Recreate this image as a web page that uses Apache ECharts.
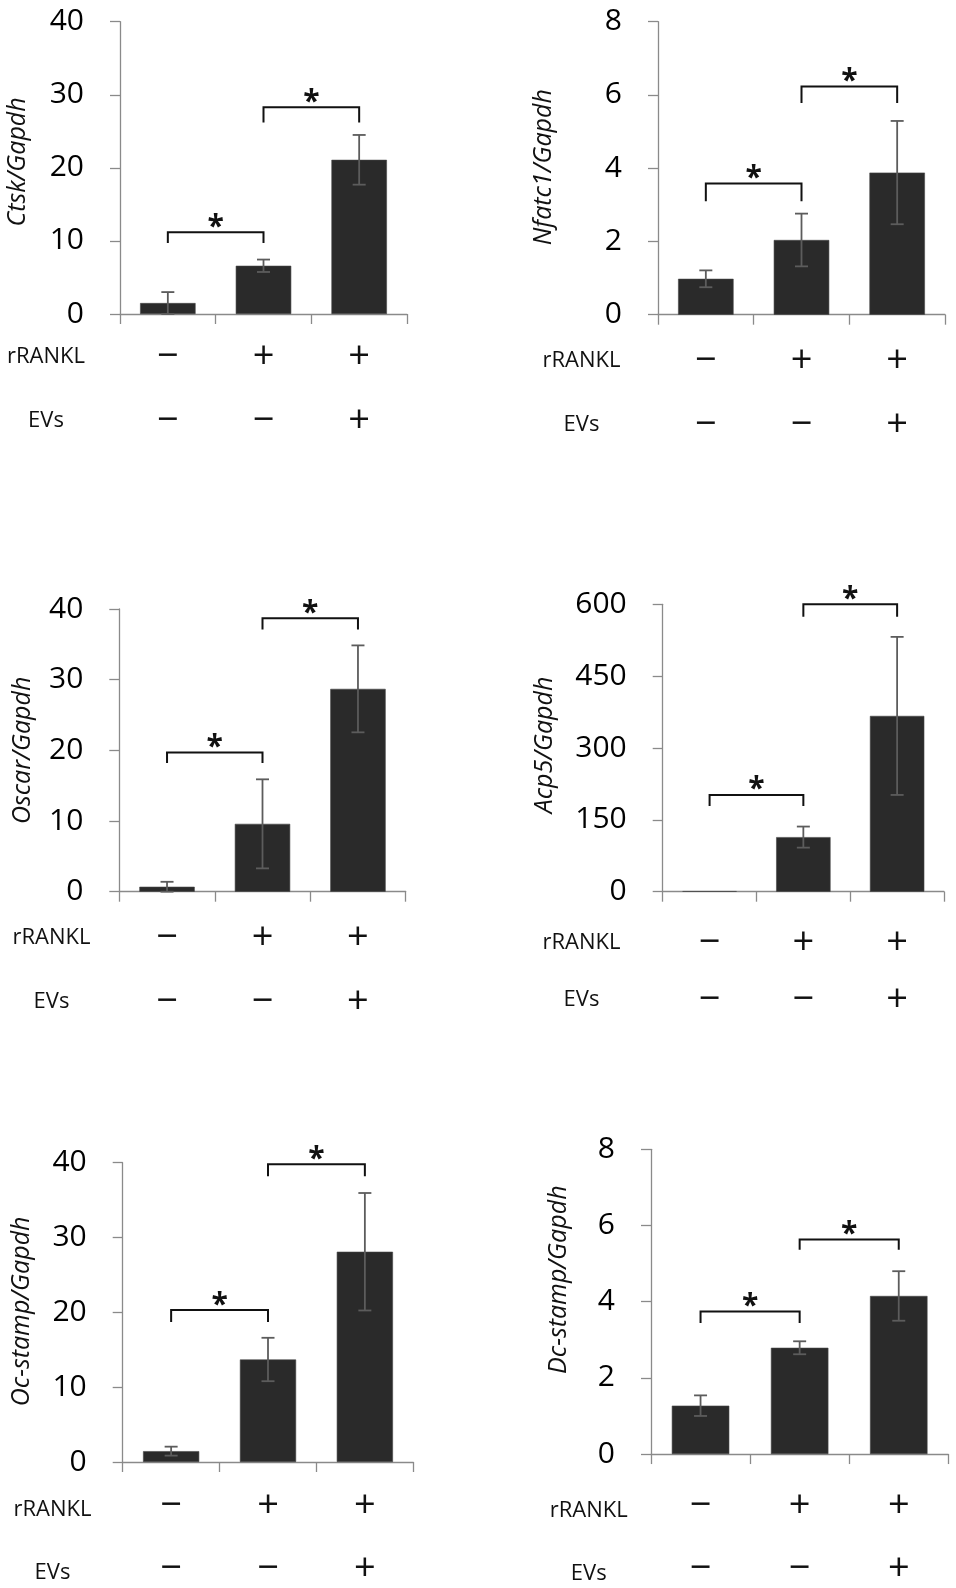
<!DOCTYPE html>
<html>
<head>
<meta charset="utf-8">
<script src="https://cdn.jsdelivr.net/npm/echarts@6/dist/echarts.min.js"></script>
<style>
html,body{margin:0;padding:0;background:#fff;}
#chart{width:956px;height:1588px;}
</style>
</head>
<body>
<div id="chart"></div>
<script>
// ---- data ----
const rowLabels = ['rRANKL', 'EVs'];
const rRANKL = ['−', '+', '+'];
const EVs = ['−', '−', '+'];
const categories = rRANKL.map((r, i) => r + '/' + EVs[i]);

const yTitles = ['Ctsk/Gapdh', 'Nfatc1/Gapdh', 'Oscar/Gapdh', 'Acp5/Gapdh', 'Oc-stamp/Gapdh', 'Dc-stamp/Gapdh'];
const yMax = [40, 8, 40, 600, 40, 8];
const yInterval = [10, 2, 10, 150, 10, 2];

const ctskMean = [1.5, 6.6, 21.1];
const ctskErr = [1.5, 0.85, 3.4];
const nfatc1Mean = [0.98, 2.04, 3.88];
const nfatc1Err = [0.23, 0.72, 1.41];
const oscarMean = [0.7, 9.6, 28.7];
const oscarErr = [0.7, 6.3, 6.15];
const acp5Mean = [1, 114, 367];
const acp5Err = [0, 22, 165];
const ocstampMean = [1.45, 13.7, 28.1];
const ocstampErr = [0.6, 2.9, 7.85];
const dcstampMean = [1.27, 2.79, 4.15];
const dcstampErr = [0.27, 0.17, 0.65];

// significance brackets: [fromIndex, toIndex, barLevel, legEndLevel]
const ctskSig = [[0, 1, 11.2, 9.7], [1, 2, 28.3, 26.2]];
const nfatc1Sig = [[0, 1, 3.58, 3.1], [1, 2, 6.23, 5.78]];
const oscarSig = [[0, 1, 19.7, 18.2], [1, 2, 38.7, 37.1]];
const acp5Sig = [[0, 1, 202, 179], [1, 2, 600, 574]];
const ocstampSig = [[0, 1, 20.3, 18.7], [1, 2, 39.8, 38.2]];
const dcstampSig = [[0, 1, 3.74, 3.44], [1, 2, 5.63, 5.36]];

const means = [ctskMean, nfatc1Mean, oscarMean, acp5Mean, ocstampMean, dcstampMean];
const errs = [ctskErr, nfatc1Err, oscarErr, acp5Err, ocstampErr, dcstampErr];
const sigs = [ctskSig, nfatc1Sig, oscarSig, acp5Sig, ocstampSig, dcstampSig];

// ---- layout (pixels) ----
const grids = [
  {left: 120, top: 21.7, width: 287, height: 292.3},
  {left: 658, top: 21.7, width: 287, height: 293},
  {left: 119.3, top: 609, width: 286.4, height: 282.7},
  {left: 662.7, top: 604.3, width: 281.3, height: 287.4},
  {left: 122.7, top: 1162.7, width: 290.6, height: 303.3},
  {left: 651, top: 1149.3, width: 297.3, height: 309.7}
];
const nameGaps = [90, 102, 84, 105, 88, 80];
const namePads = [[0,0,0,12], [0,0,0,2], [0,0,0,0], [0,0,0,6], [0,0,0,2], [0,0,0,44]];
const labelMargin = [11, 14, 14, 22.5, 12.5, 20];
const labelLineH = [64, 64, 64, 57, 63, 63.3];
const rowLabelPos = [
  [46, 357, 421], [581.5, 361, 425], [51.5, 938, 1001.7],
  [581.5, 942.7, 1000], [52.5, 1510, 1573], [588.7, 1510.7, 1574]
];

const AXIS_COLOR = '#8a8a8a';
const FONT = '"Open Sans", "Noto Sans", sans-serif';

const option = {
  backgroundColor: '#fff',
  animation: false,
  grid: grids.map(g => Object.assign({containLabel: false}, g)),
  xAxis: grids.map((g, i) => ({
    type: 'category',
    gridIndex: i,
    data: categories,
    axisLine: {lineStyle: {color: AXIS_COLOR, width: 1.3}},
    axisTick: {show: true, length: 10, lineStyle: {color: AXIS_COLOR, width: 1.3}},
    axisLabel: {
      margin: labelMargin[i],
      interval: 0,
      formatter: v => v.split('/').map(s => '{s|' + s + '}').join('\n'),
      rich: {s: {fontFamily: FONT, fontSize: 38, lineHeight: labelLineH[i], color: '#111'}}
    }
  })),
  yAxis: grids.map((g, i) => ({
    type: 'value',
    gridIndex: i,
    min: 0,
    max: yMax[i],
    interval: yInterval[i],
    name: yTitles[i],
    nameLocation: 'middle',
    nameRotate: 90,
    nameGap: nameGaps[i],
    nameTextStyle: {fontFamily: FONT, fontStyle: 'italic', fontSize: 25, color: '#111', padding: namePads[i]},
    splitLine: {show: false},
    axisLine: {show: true, lineStyle: {color: AXIS_COLOR, width: 1.3}},
    axisTick: {show: true, length: 10, lineStyle: {color: AXIS_COLOR, width: 1.3}},
    axisLabel: {margin: 36, fontFamily: FONT, fontSize: 30, color: '#000'}
  })),
  graphic: [],
  series: []
};

// row labels
rowLabelPos.forEach(p => {
  rowLabels.forEach((t, k) => {
    option.graphic.push({
      type: 'text', x: p[0], y: p[k + 1],
      style: {text: t, fontFamily: FONT, fontSize: 22, fill: '#111', align: 'center', verticalAlign: 'middle'}
    });
  });
});

means.forEach((m, i) => {
  option.series.push({
    type: 'bar', xAxisIndex: i, yAxisIndex: i,
    data: m, barWidth: '58%',
    itemStyle: {color: '#2a2a2a', borderColor: '#444', borderWidth: 0.6},
    z: 2
  });
  option.series.push({
    type: 'custom', xAxisIndex: i, yAxisIndex: i, z: 5,
    data: m.map((v, k) => [k, v - errs[i][k], v + errs[i][k], errs[i][k]]),
    renderItem: (params, api) => {
      if (api.value(3) <= 0) return null;
      const top = api.coord([api.value(0), api.value(2)]);
      const bot = api.coord([api.value(0), api.value(1)]);
      const w = 6.5;
      const st = {stroke: '#5c5c5c', lineWidth: 1.8};
      return {type: 'group', children: [
        {type: 'line', shape: {x1: top[0], y1: top[1], x2: bot[0], y2: bot[1]}, style: st},
        {type: 'line', shape: {x1: top[0] - w, y1: top[1], x2: top[0] + w, y2: top[1]}, style: st},
        {type: 'line', shape: {x1: bot[0] - w, y1: bot[1], x2: bot[0] + w, y2: bot[1]}, style: st}
      ]};
    }
  });
  option.series.push({
    type: 'custom', xAxisIndex: i, yAxisIndex: i, z: 6, clip: false,
    data: sigs[i],
    renderItem: (params, api) => {
      const a = api.coord([api.value(0), api.value(3)]);
      const b = api.coord([api.value(0), api.value(2)]);
      const c = api.coord([api.value(1), api.value(2)]);
      const d = api.coord([api.value(1), api.value(3)]);
      return {type: 'group', children: [
        {type: 'polyline', shape: {points: [a, b, c, d]}, style: {stroke: '#111', lineWidth: 2, fill: null}},
        {type: 'text', x: (b[0] + c[0]) / 2, y: b[1] + 10,
          style: {text: '*', fontFamily: FONT, fontWeight: 'bold', fontSize: 30, fill: '#111', align: 'center', verticalAlign: 'bottom'}}
      ]};
    }
  });
});

const chart = echarts.init(document.getElementById('chart'), null, {renderer: 'canvas'});
chart.setOption(option);
</script>
</body>
</html>
